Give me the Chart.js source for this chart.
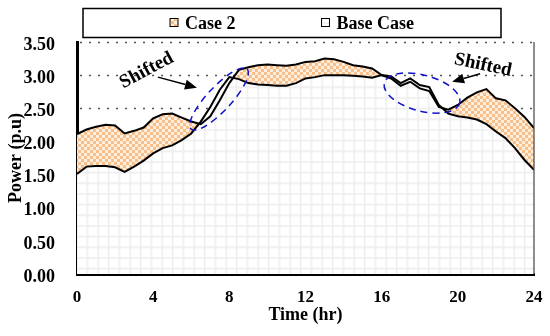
<!DOCTYPE html>
<html>
<head>
<meta charset="utf-8">
<script src="https://cdn.jsdelivr.net/npm/chart.js@4.4.1/dist/chart.umd.min.js"></script>
<style>
  body { margin: 0; background: #fff; }
</style>
</head>
<body>
<canvas id="myChart" width="550" height="336"></canvas>
<script>
// time of day (hr)
const hours = [0, 0.5, 1, 1.5, 2, 2.5, 3, 3.5, 4, 4.5, 5, 5.5, 6, 6.5, 7, 7.5, 8, 8.5, 9, 9.5,
  10, 10.5, 11, 11.5, 12, 12.5, 13, 13.5, 14, 14.5, 15, 15.5, 16, 16.5, 17, 17.5, 18, 18.5, 19, 19.5,
  20, 20.5, 21, 21.5, 22, 22.5, 23, 23.5, 24];

// power (p.u)
const case2 = [2.11, 2.18, 2.22, 2.25, 2.24, 2.12, 2.16, 2.21, 2.35, 2.41, 2.42, 2.36, 2.30, 2.26, 2.38, 2.62,
  2.88, 3.08, 3.12, 3.15, 3.16, 3.15, 3.14, 3.16, 3.20, 3.21, 3.25, 3.24, 3.20, 3.15, 3.13, 3.10,
  3.00, 2.95, 2.84, 2.90, 2.80, 2.76, 2.52, 2.48, 2.55, 2.66, 2.74, 2.79, 2.65, 2.62, 2.50, 2.37, 2.20];
const baseCase = [1.51, 1.62, 1.63, 1.63, 1.61, 1.54, 1.62, 1.71, 1.82, 1.90, 1.94, 2.02, 2.12, 2.30, 2.52, 2.78,
  2.97, 2.94, 2.88, 2.86, 2.85, 2.84, 2.84, 2.88, 2.95, 2.97, 3.00, 3.00, 3.00, 2.99, 2.98, 2.96,
  3.00, 2.98, 2.88, 2.95, 2.85, 2.82, 2.55, 2.42, 2.38, 2.36, 2.33, 2.26, 2.15, 2.05, 1.90, 1.72, 1.57];

const xTicks = [0, 4, 8, 12, 16, 20, 24];
const yTicks = [0, 0.5, 1, 1.5, 2, 2.5, 3, 3.5];

// annotations, in data units
const notes = [
  { text: "Shifted", x: 3.66, y: 3.07, angle: -28 },
  { text: "Shifted", x: 21.32, y: 3.15, angle: 12 }
];
const arrows = [
  { from: [4.25, 2.97], to: [6.30, 2.81] },
  { from: [21.17, 3.02], to: [19.70, 2.90] }
];
const rings = [
  { x: 7.46, y: 2.64, rx: 41, ry: 12, angle: -47 },
  { x: 18.12, y: 2.73, rx: 39, ry: 18, angle: 15 }
];

Chart.defaults.font.family = "'Liberation Serif', 'Times New Roman', serif";
Chart.defaults.font.weight = "bold";
Chart.defaults.color = "#000";

var ctx = document.getElementById("myChart");
var g = ctx.getContext("2d");

function checkerPattern() {
  const c = document.createElement("canvas");
  c.width = 6; c.height = 6;
  const p = c.getContext("2d");
  p.fillStyle = "#fdeedd";
  p.fillRect(0, 0, 6, 6);
  p.fillStyle = "#f8bf8a";
  p.fillRect(0, 0, 3, 3);
  p.fillRect(3, 3, 3, 3);
  return g.createPattern(c, "repeat");
}

function gridPattern() {
  const c = document.createElement("canvas");
  c.width = 32; c.height = 32;
  const p = c.getContext("2d");
  p.fillStyle = "#fff";
  p.fillRect(0, 0, 32, 32);
  p.fillStyle = "#ebebeb";
  for (let k = 0; k < 3; k++) {
    p.fillRect(k * 32 / 3, 0, 1.3, 32);
    p.fillRect(0, k * 32 / 3, 32, 1.3);
  }
  const pat = g.createPattern(c, "repeat");
  pat.setTransform(new DOMMatrix().translate(1.4, 1.3));
  return pat;
}

const case2Fill = checkerPattern();
const baseFill = gridPattern();

const extras = {
  id: "extras",
  beforeDraw(chart) {
    // dotted major gridlines, kept inside the plot area
    const c = chart.ctx, a = chart.chartArea, sy = chart.scales.y;
    c.save();
    c.strokeStyle = "#555";
    c.lineWidth = 1.5;
    c.setLineDash([2, 7]);
    yTicks.forEach(v => {
      const y = Math.round(sy.getPixelForValue(v)) + 0.5;
      c.beginPath();
      c.moveTo(a.left + 3, y);
      c.lineTo(a.right - 2, y);
      c.stroke();
    });
    c.restore();
  },
  afterDatasetsDraw(chart) {
    const c = chart.ctx, a = chart.chartArea;
    const sx = chart.scales.x, sy = chart.scales.y;
    c.save();
    // right frame line
    c.strokeStyle = "#444";
    c.lineWidth = 1.2;
    c.beginPath();
    c.moveTo(a.right, a.top);
    c.lineTo(a.right, a.bottom);
    c.stroke();

    // dashed ellipses
    c.strokeStyle = "#1010c8";
    c.lineWidth = 1.5;
    c.setLineDash([7, 5]);
    rings.forEach(r => {
      c.beginPath();
      c.ellipse(sx.getPixelForValue(r.x), sy.getPixelForValue(r.y), r.rx, r.ry, r.angle * Math.PI / 180, 0, Math.PI * 2);
      c.stroke();
    });
    c.setLineDash([]);

    // arrows
    c.strokeStyle = "#000";
    c.fillStyle = "#000";
    c.lineWidth = 1.5;
    arrows.forEach(ar => {
      const x1 = sx.getPixelForValue(ar.from[0]), y1 = sy.getPixelForValue(ar.from[1]);
      const x2 = sx.getPixelForValue(ar.to[0]), y2 = sy.getPixelForValue(ar.to[1]);
      const ang = Math.atan2(y2 - y1, x2 - x1);
      const len = 12, w = 5;
      const bx = x2 - len * Math.cos(ang), by = y2 - len * Math.sin(ang);
      c.beginPath();
      c.moveTo(x1, y1);
      c.lineTo(bx, by);
      c.stroke();
      c.beginPath();
      c.moveTo(x2, y2);
      c.lineTo(bx + w * Math.sin(ang), by - w * Math.cos(ang));
      c.lineTo(bx - w * Math.sin(ang), by + w * Math.cos(ang));
      c.closePath();
      c.fill();
    });

    // labels
    c.font = "bold 19px 'Liberation Serif', serif";
    c.textAlign = "center";
    c.textBaseline = "middle";
    notes.forEach(n => {
      c.save();
      c.translate(sx.getPixelForValue(n.x), sy.getPixelForValue(n.y));
      c.rotate(n.angle * Math.PI / 180);
      c.fillText(n.text, 0, 0);
      c.restore();
    });
    c.restore();
  },
  afterDraw(chart) {
    // legend box
    const c = chart.ctx;
    c.save();
    c.strokeStyle = "#000";
    c.lineWidth = 1.5;
    c.strokeRect(83, 8.5, 418, 29);
    c.font = "bold 18px 'Liberation Serif', serif";
    c.textBaseline = "alphabetic";
    c.textAlign = "left";
    const items = chart.data.datasets.slice().reverse();
    const gap = 86, box = 8, boxGap = 7;
    const widths = items.map(d => box + boxGap + c.measureText(d.label).width);
    const total = widths.reduce((s, w) => s + w, 0) + gap * (items.length - 1);
    let x = 292 - total / 2;
    items.forEach((d, i) => {
      c.fillStyle = d.backgroundColor;
      c.fillRect(x, 18.5, box, box);
      c.strokeStyle = "#000";
      c.lineWidth = 1;
      c.strokeRect(x, 18.5, box, box);
      c.fillStyle = "#000";
      c.fillText(d.label, x + box + boxGap, 28.5);
      x += widths[i] + gap;
    });
    c.restore();
  }
};

var myChart = new Chart(ctx, {
  type: "line",
  data: {
    datasets: [
      {
        label: "Base Case",
        data: hours.map((h, i) => ({ x: h, y: baseCase[i] })),
        backgroundColor: baseFill,
        borderColor: "#000",
        borderWidth: 2,
        fill: "origin",
      },
      {
        label: "Case 2",
        data: hours.map((h, i) => ({ x: h, y: case2[i] })),
        backgroundColor: case2Fill,
        borderColor: "#000",
        borderWidth: 2,
        fill: "origin",
      },
    ],
  },
  options: {
    responsive: false,
    animation: false,
    layout: { padding: { top: 42, right: 16, left: 0, bottom: 0 } },
    elements: { point: { radius: 0 }, line: { tension: 0 } },
    plugins: {
      legend: { display: false },
      tooltip: { enabled: false },
      filler: { drawTime: "beforeDatasetsDraw" },
    },
    scales: {
      x: {
        type: "linear",
        min: 0,
        max: 24,
        afterBuildTicks: s => { s.ticks = xTicks.map(v => ({ value: v })); },
        afterFit: s => { s.height = 62; },
        grid: { display: false },
        border: { color: "#000", width: 3 },
        ticks: { padding: 5, font: { size: 17 } },
        title: { display: true, text: "Time (hr)", font: { size: 18 }, padding: { top: 0, bottom: 10 } },
      },
      y: {
        min: 0,
        max: 3.5,
        afterBuildTicks: s => { s.ticks = yTicks.map(v => ({ value: v })); },
        afterFit: s => { s.width = 77; },
        grid: { display: false },
        border: { color: "#000", width: 3 },
        ticks: { padding: 14, labelOffset: 3, font: { size: 18 }, callback: v => v.toFixed(2) },
        title: { display: true, text: "Power (p.u)", font: { size: 18 }, padding: { top: 6, bottom: 0 } },
      },
    },
  },
  plugins: [extras],
});
</script>
</body>
</html>
